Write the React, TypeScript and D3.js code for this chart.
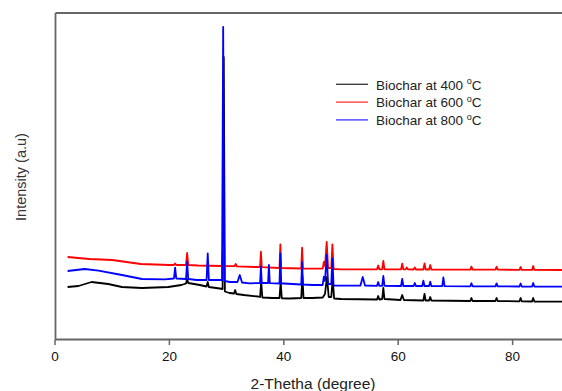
import React from "react";
import * as d3 from "d3";

const W = 562;
const H = 391;

// 2θ (degree), intensity (a.u.)
const biochar400: [number, number][] = [
  [2.2, 52], [4.1, 53], [6.4, 57], [9.3, 55], [11.7, 52], [15.2, 51], [19.8, 52], [22.1, 54],
  [22.9, 55.5], [23.1, 60], [23.3, 56], [25.3, 54], [26.5, 52.5], [26.7, 57], [26.9, 52],
  [28.8, 50.5], [29.3, 50], [29.5, 282], [29.7, 47.5], [30.5, 46], [31.3, 45.5], [31.5, 49],
  [31.7, 45], [33, 44], [35.5, 42.5], [35.85, 42], [36.05, 57], [36.25, 41.5], [38, 41],
  [39.25, 41], [39.45, 57], [39.65, 40.7], [41, 40.5], [43.05, 41], [43.25, 63], [43.45, 41],
  [45, 41], [46.8, 41.5], [47.2, 45], [47.55, 62], [47.85, 42], [48.3, 42], [48.55, 60],
  [48.8, 40.5], [50, 40], [56.3, 39.5], [56.5, 43], [56.7, 39.5], [57.2, 40], [57.4, 51],
  [57.6, 40], [60.4, 39], [60.7, 44], [61, 39], [64.4, 38.5], [64.6, 45], [64.8, 38.5],
  [65.4, 38.5], [65.6, 42], [65.8, 38.5], [72.6, 38], [72.8, 41], [73, 38], [77, 38],
  [77.2, 41], [77.4, 38], [81.2, 37.7], [81.4, 41], [81.6, 37.7], [83.4, 37.5], [83.6, 41],
  [83.8, 37.5], [89.9, 37.3],
];

const biochar600: [number, number][] = [
  [2.2, 82], [6, 80], [10, 79], [15, 75], [20, 74], [20.8, 74], [21, 75.5], [21.2, 74],
  [22.9, 74], [23.1, 86], [23.3, 74], [25, 73.5], [29.2, 73], [29.4, 95], [29.6, 73],
  [31.4, 72.8], [31.6, 75], [31.8, 72.6], [35, 72], [35.85, 72], [36.0, 87.3], [36.15, 71.8],
  [39.25, 71], [39.4, 94.7], [39.55, 71], [43.05, 70.5], [43.2, 91.3], [43.35, 70.5],
  [46.8, 70.3], [47.0, 77], [47.2, 73], [47.5, 97], [47.75, 71], [48.3, 71], [48.5, 94.7],
  [48.7, 70], [50, 69.7], [56.3, 69.7], [56.5, 73.5], [56.7, 69.7], [57.2, 69.7], [57.4, 78],
  [57.6, 69.7], [60.5, 69.6], [60.7, 75.3], [60.9, 69.6], [61.3, 69.6], [61.5, 71.5],
  [61.7, 69.6], [62.7, 69.5], [62.9, 71.5], [63.1, 69.5], [64.4, 69.5], [64.6, 75.7],
  [64.8, 69.5], [65.4, 69.5], [65.6, 74], [65.8, 69.5], [72.6, 69.4], [72.8, 72.4], [73, 69.4],
  [77, 69.3], [77.2, 72.2], [77.4, 69.3], [81.2, 69.2], [81.4, 72], [81.6, 69.2], [83.4, 69.1],
  [83.6, 73], [83.8, 69.1], [89.9, 69],
];

const biochar800: [number, number][] = [
  [2.2, 68], [5.2, 70], [7.6, 68.3], [11.7, 64], [15.2, 60], [19.2, 59.7], [20.8, 60.5],
  [21.0, 71.3], [21.2, 60.5], [22.9, 60], [23.1, 77.3], [23.3, 60], [24.8, 59], [26.5, 59],
  [26.7, 85.7], [26.9, 59], [29.2, 59], [29.4, 312], [29.6, 58], [30.6, 57], [31.9, 57],
  [32.3, 64], [32.7, 56.5], [34, 55.7], [35.85, 56], [36.0, 72.3], [36.15, 56], [37.25, 56],
  [37.4, 74], [37.55, 55.8], [39.25, 55.5], [39.4, 85.7], [39.55, 55.5], [40, 55.5],
  [43.05, 54.5], [43.2, 77], [43.35, 54.5], [45, 54], [46.8, 54], [47.0, 62.3], [47.2, 58],
  [47.5, 84], [47.75, 55], [48.3, 55], [48.5, 80.7], [48.7, 53.5], [50, 53.3], [53.4, 53.5],
  [53.8, 62], [54.2, 53.5], [56.3, 53.2], [56.5, 57], [56.7, 53.2], [57.2, 53.2], [57.4, 63],
  [57.6, 53.2], [60.5, 53], [60.7, 60], [60.9, 53], [62.7, 53], [62.9, 56], [63.1, 53],
  [64.2, 53], [64.4, 58.3], [64.6, 53], [65.4, 53], [65.6, 57.3], [65.8, 53], [67.7, 52.8],
  [67.9, 61.7], [68.1, 52.8], [72.6, 52.7], [72.8, 55.7], [73, 52.7], [77, 52.6], [77.2, 55.6],
  [77.4, 52.6], [81.2, 52.5], [81.4, 55.5], [81.6, 52.5], [83.4, 52.4], [83.6, 56], [83.8, 52.4],
  [89.9, 52.3],
];

const seriesNames = ["400", "600", "800"];
const seriesColors = ["#000000", "#ff0000", "#0000ff"];
const xTicks = [0, 20, 40, 60, 80];

export default function App() {
  const x = d3.scaleLinear().domain([0, 90]).range([55, 569.8]);
  const y = d3.scaleLinear().domain([0, 326]).range([339, 13]);
  const line = d3
    .line<[number, number]>()
    .x((d) => x(d[0]))
    .y((d) => y(d[1]));
  const data = [biochar400, biochar600, biochar800];
  const frame = "#666666";

  return (
    <svg
      width={W}
      height={H}
      style={{ position: "absolute", left: 0, top: 0, background: "#fff" }}
      fontFamily="'Liberation Sans', Arial, sans-serif"
    >
      <defs>
        <clipPath id="plot">
          <rect x={55} y={13} width={520} height={326} />
        </clipPath>
      </defs>
      <g clipPath="url(#plot)">
        {data.map((d, i) => (
          <path
            key={i}
            d={line(d) || ""}
            fill="none"
            stroke={seriesColors[i]}
            strokeWidth={1.8}
            strokeLinejoin="round"
          />
        ))}
      </g>
      {/* frame */}
      <line x1={55.5} x2={W} y1={13} y2={13} stroke={frame} strokeWidth={1.8} />
      <line x1={55.5} x2={55.5} y1={13} y2={339.5} stroke={frame} strokeWidth={1.8} />
      <line x1={55} x2={W} y1={339.5} y2={339.5} stroke={frame} strokeWidth={1.8} />
      {xTicks.map((t) => (
        <g key={t}>
          <line x1={x(t)} x2={x(t)} y1={339.5} y2={345} stroke={frame} strokeWidth={1.5} />
          <text x={x(t)} y={361} fontSize={13.5} textAnchor="middle" fill="#111">
            {t}
          </text>
        </g>
      ))}
      <text x={313} y={389} fontSize={15.5} textAnchor="middle" fill="#222">
        2-Thetha (degree)
      </text>
      <text
        transform="translate(26,177) rotate(-90)"
        fontSize={14.5}
        textAnchor="middle"
        fill="#333"
      >
        Intensity (a.u)
      </text>
      {seriesNames.map((n, i) => (
        <g key={n}>
          <line
            x1={336}
            x2={368}
            y1={84.3 + i * 17.8}
            y2={84.3 + i * 17.8}
            stroke={seriesColors[i]}
            strokeWidth={1.3}
            opacity={0.8}
          />
          <text x={376} y={89.5 + i * 17.8} fontSize={13.5} fill="#222">
            {`Biochar at ${n} `}
            <tspan fontSize={9} dy={-5.5}>o</tspan>
            <tspan dy={5.5}>C</tspan>
          </text>
        </g>
      ))}
    </svg>
  );
}
